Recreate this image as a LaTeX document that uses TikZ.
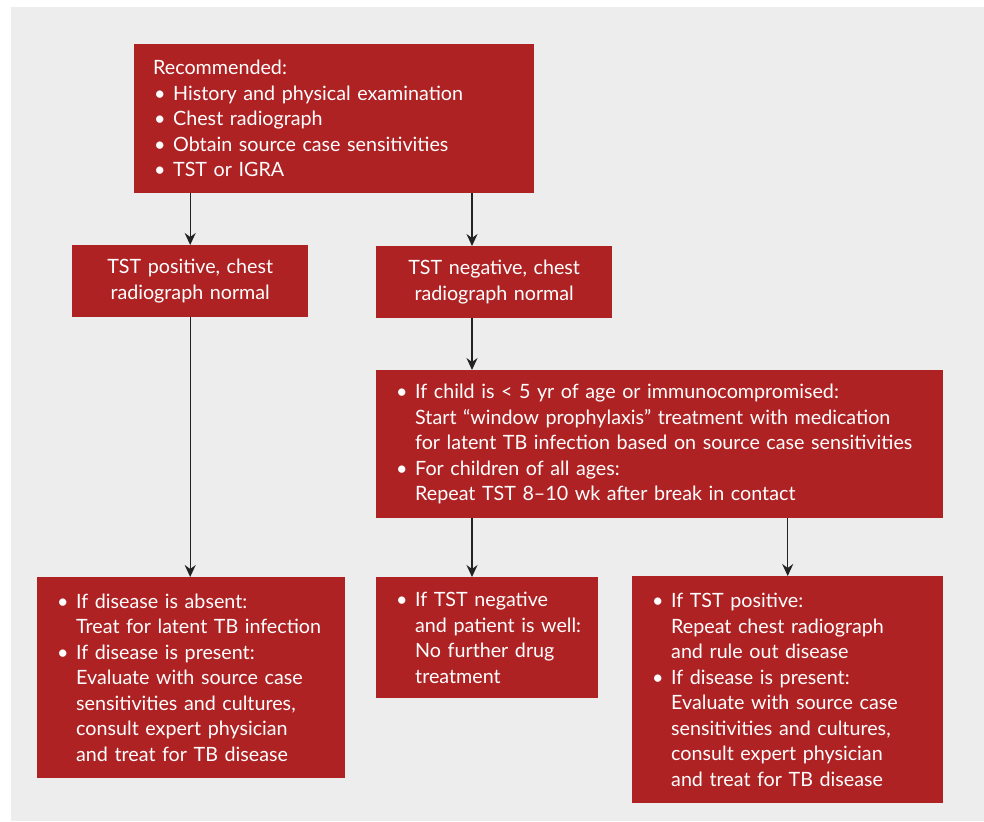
\documentclass[tikz,border=0pt]{standalone}
\usepackage{fontspec}
\setmainfont{Lato}
\usetikzlibrary{arrows.meta}
\definecolor{tbred}{RGB}{175,34,36}
\definecolor{tbgray}{RGB}{237,237,237}
\definecolor{tbline}{RGB}{34,34,34}
\newcommand{\bl}{\hspace*{1pt}\makebox[19pt][l]{\textbullet}}
\newcommand{\ind}{\hspace*{20pt}}

\begin{document}
\begin{tikzpicture}[x=1pt,y=-1pt,
        box/.style={fill=tbred, text=white, anchor=north west, inner xsep=19pt, inner ysep=0pt,
            align=left, font=\fontsize{19.7}{25.5}\selectfont},
        arr/.style={draw=tbline, line width=1.4pt, -{Stealth[length=12pt,width=11pt,inset=4pt]}}]
        % achtergrond
        \useasboundingbox (0,0) rectangle (984,821);
        \fill[white] (0,0) rectangle (984,821);
        \fill[tbgray] (11,7) rectangle (984,821);
        % blokken
        \node[box, text width=362pt, minimum height=149pt] (recom) at (134,44)
            {Recommended:\\ \bl History and physical examination\\ \bl Chest radiograph\\
             \bl Obtain source case sensitivities\\ \bl TST or IGRA};
        \node[box, align=center, text width=198pt, minimum height=72pt] (tstpos) at (72,245)
            {TST positive, chest\\ radiograph normal};
        \node[box, align=center, text width=198pt, minimum height=72pt] (tstneg) at (376,246)
            {TST negative, chest\\ radiograph normal};
        \node[box, text width=529pt, minimum height=148pt] (window) at (376,370)
            {\bl If child is < 5 yr of age or immunocompromised:\\
             \ind Start “window prophylaxis” treatment with medication\\
             \ind for latent TB infection based on source case sensitivities\\
             \bl For children of all ages:\\
             \ind Repeat TST 8–10 wk after break in contact};
        \node[box, text width=270pt, minimum height=201pt] (treatpos) at (37,577)
            {\bl If disease is absent:\\ \ind Treat for latent TB infection\\
             \bl If disease is present:\\ \ind Evaluate with source case\\
             \ind sensitivities and cultures,\\ \ind consult expert physician\\
             \ind and treat for TB disease};
        \node[box, text width=184pt, minimum height=121pt] (nodrug) at (376,577)
            {\bl If TST negative\\ \ind\mbox{and patient is well:}\\ \ind No further drug\\ \ind treatment};
        \node[box, text width=273pt, minimum height=227pt] (retest) at (632,576)
            {\bl If TST positive:\\ \ind Repeat chest radiograph\\ \ind and rule out disease\\
             \bl If disease is present:\\ \ind Evaluate with source case\\
             \ind sensitivities and cultures,\\ \ind consult expert physician\\
             \ind and treat for TB disease};
        % pijlen
        \coordinate (col2) at (472,0);
        \draw[arr] (recom.south -| tstpos) -- (tstpos.north);
        \draw[arr] (recom.south -| col2) -- (tstneg.north -| col2);
        \draw[arr] (tstpos.south) -- (treatpos.north -| tstpos);
        \draw[arr] (tstneg.south -| col2) -- (window.north -| col2);
        \draw[arr] (window.south -| col2) -- (nodrug.north -| col2);
        \draw[arr] (window.south -| retest) -- (retest.north);
    \end{tikzpicture}
\end{document}
